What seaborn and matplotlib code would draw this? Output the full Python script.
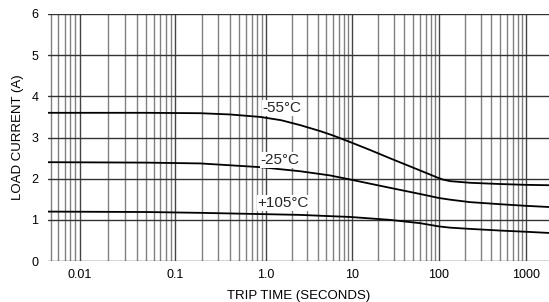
import numpy as np
import pandas as pd
import matplotlib
matplotlib.use("Agg")
import matplotlib.pyplot as plt
import matplotlib.ticker as mticker
import seaborn as sns

# ---- data ----
t_m55 = [0.0047, 0.05, 0.19, 0.4, 0.86, 1.5, 2.5, 4.2, 6, 9.5, 16, 27, 45, 73, 95, 110, 134, 227, 500, 1000, 1900]
i_m55 = [3.6, 3.6, 3.59, 3.56, 3.5, 3.42, 3.30, 3.16, 3.05, 2.89, 2.70, 2.50, 2.31, 2.13, 2.03, 1.98, 1.94, 1.9, 1.87, 1.85, 1.84]

t_m25 = [0.0047, 0.05, 0.19, 0.86, 2.5, 5.5, 9.5, 16, 27, 60, 100, 134, 227, 500, 1000, 1900]
i_m25 = [2.4, 2.39, 2.37, 2.28, 2.18, 2.08, 1.98, 1.88, 1.78, 1.63, 1.53, 1.49, 1.43, 1.38, 1.34, 1.31]

t_p105 = [0.0047, 0.05, 0.19, 0.86, 2.5, 5.5, 9.5, 27, 60, 100, 134, 227, 500, 1000, 1900]
i_p105 = [1.2, 1.19, 1.17, 1.14, 1.12, 1.09, 1.07, 1.0, 0.92, 0.84, 0.81, 0.78, 0.74, 0.71, 0.68]

series_names = ["-55°C", "-25°C", "+105°C"]
x_ticks = [0.01, 0.1, 1, 10, 100, 1000]
x_tick_labels = ["0.01", "0.1", "1.0", "10", "100", "1000"]
y_ticks = [0, 1, 2, 3, 4, 5, 6]

df = pd.concat([
    pd.DataFrame({"t": t_m55, "i": i_m55, "s": series_names[0]}),
    pd.DataFrame({"t": t_m25, "i": i_m25, "s": series_names[1]}),
    pd.DataFrame({"t": t_p105, "i": i_p105, "s": series_names[2]}),
])

# ---- slightly irregular log axis of the original chart (decade spacing) ----
log_knots = np.array([-3.0, -2.0, -1.0, 0.0, 1.0, 2.0, 3.0, 4.0])
pos_knots = np.array([-16.0, 79.5, 175.0, 266.0, 352.0, 439.0, 526.0, 613.0])

def fwd(x):
    x = np.asarray(x, dtype=float)
    return np.interp(np.log10(np.clip(x, 1e-12, None)), log_knots, pos_knots)

def inv(p):
    p = np.asarray(p, dtype=float)
    return 10 ** np.interp(p, pos_knots, log_knots)

sns.set_theme(style="white")
plt.rcParams["font.family"] = ["Liberation Sans", "DejaVu Sans"]

fig = plt.figure(figsize=(5.49, 3.02), dpi=100)
ax = fig.add_axes([48 / 549, 41 / 302, 501 / 549, 247 / 302])

ax.set_xscale("function", functions=(fwd, inv))
ax.set_xlim(inv(48), inv(549))
ax.set_ylim(0, 6)

sns.lineplot(data=df, x="t", y="i", hue="s", palette=["black"] * 3,
             legend=False, ax=ax, linewidth=1.3, sort=False, zorder=3)

minor = [m * 10.0 ** d for d in range(-3, 4) for m in range(2, 10)]
ax.xaxis.set_major_locator(mticker.FixedLocator(x_ticks))
ax.xaxis.set_major_formatter(mticker.FixedFormatter(x_tick_labels))
ax.xaxis.set_minor_locator(mticker.FixedLocator(minor))
ax.xaxis.set_minor_formatter(mticker.NullFormatter())
ax.set_yticks(y_ticks)

ax.grid(True, which="major", axis="x", color="#444444", linewidth=1.0)
ax.grid(True, which="minor", axis="x", color="#808080", linewidth=1.0)
ax.grid(True, which="major", axis="y", color="#333333", linewidth=1.0)
for s in ax.spines.values():
    s.set_visible(False)
ax.tick_params(axis="both", which="both", length=0, labelsize=9, colors="black")
ax.tick_params(axis="x", pad=6)
ax.tick_params(axis="y", pad=7)

ax.set_xlabel("TRIP TIME (SECONDS)", fontsize=9.5, labelpad=6, color="black")
ax.set_ylabel("LOAD CURRENT (A)", fontsize=9.5, labelpad=5, color="black")

label_pos = [(1.53, 3.72), (1.45, 2.45), (1.58, 1.41)]
for name, (lx, ly) in zip(series_names, label_pos):
    ax.text(lx, ly, name, fontsize=11, ha="center", va="center", zorder=4,
            bbox=dict(facecolor="white", edgecolor="none", pad=0.5))

fig.savefig("out.png", dpi=100)
